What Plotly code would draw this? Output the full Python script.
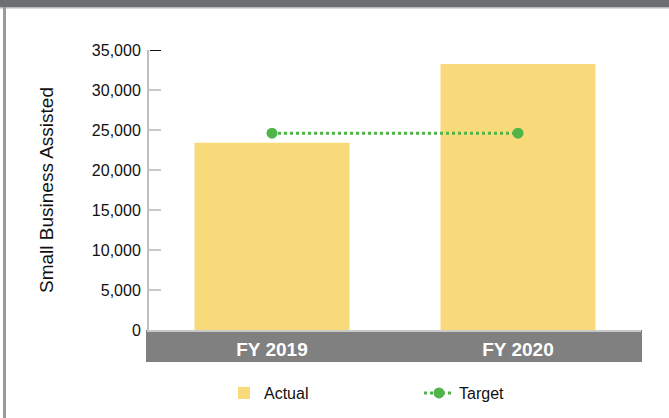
import plotly.graph_objects as go

categories = ["FY 2019", "FY 2020"]
actual = [23400, 33250]
target = [24600, 24600]
y_ticks = [0, 5000, 10000, 15000, 20000, 25000, 30000, 35000]
y_tick_labels = ["0", "5,000", "10,000", "15,000", "20,000", "25,000", "30,000", "35,000"]

FONT = "Liberation Sans, Arial, Helvetica, sans-serif"

W, H = 669, 418
L, R, T, B = 149, 28, 50, 88
PW, PH = W - L - R, H - T - B

def px_x(p):
    return (p - L) / PW

def px_y(p):
    return (H - B - p) / PH

fig = go.Figure()
fig.add_trace(go.Bar(
    x=[0, 1], y=actual, name="Actual", width=0.63,
    marker=dict(color="#f8da7a", line=dict(width=0)),
))
fig.add_trace(go.Scatter(
    x=[0, 1], y=target, name="Target", mode="lines+markers",
    line=dict(color="#4fb548", width=3, dash="dot"),
    marker=dict(color="#4fb548", size=11),
))

shapes = [
    # top dark band
    dict(type="rect", xref="paper", yref="paper", x0=px_x(0), x1=px_x(W), y0=px_y(7), y1=px_y(0),
         fillcolor="#6d6e72", line=dict(width=0), layer="below"),
    dict(type="rect", xref="paper", yref="paper", x0=px_x(0), x1=px_x(W), y0=px_y(8.5), y1=px_y(7),
         fillcolor="#b8b8ba", line=dict(width=0), layer="below"),
    # left border
    dict(type="rect", xref="paper", yref="paper", x0=px_x(3), x1=px_x(6), y0=px_y(H), y1=px_y(7),
         fillcolor="#9a9a9c", line=dict(width=0), layer="below"),
    # x category band
    dict(type="rect", xref="paper", yref="paper", x0=px_x(146), x1=px_x(642), y0=px_y(362), y1=px_y(330),
         fillcolor="#808080", line=dict(width=0), layer="below"),
    # black top tick
    dict(type="line", xref="paper", yref="y", x0=px_x(150), x1=px_x(161), y0=35000, y1=35000,
         line=dict(color="#111111", width=2)),
]

fig.update_layout(
    width=W, height=H,
    margin=dict(l=L, r=R, t=T, b=B, pad=0, autoexpand=False),
    paper_bgcolor="white", plot_bgcolor="white",
    font=dict(family=FONT, size=14, color="#111111"),
    showlegend=True,
    legend=dict(orientation="h", x=px_x(224), xanchor="left", y=px_y(393), yanchor="middle",
                font=dict(family=FONT, size=16, color="#111111"), entrywidth=150, itemwidth=30),
    shapes=shapes,
)
fig.update_xaxes(
    range=[-0.5, 1.5], tickmode="array", tickvals=[0, 1], ticktext=categories,
    tickfont=dict(family=FONT, size=19, color="white", weight="bold"),
    showgrid=False, zeroline=False, showline=True, linecolor="#c8c8c8", linewidth=2,
    ticks="", ticklabelstandoff=1, fixedrange=True,
)
fig.update_yaxes(
    range=[0, 35000], tickmode="array", tickvals=y_ticks, ticktext=y_tick_labels,
    tickfont=dict(family=FONT, size=16, color="#111111"),
    showgrid=False, zeroline=False, showline=True, linecolor="#c0c0c0", linewidth=2,
    ticks="inside", ticklen=12, tickcolor="#c8c8c8", tickwidth=2, ticklabelstandoff=3,
    title=dict(text="Small Business Assisted", font=dict(family=FONT, size=19, color="#111111"), standoff=33),
    fixedrange=True,
)

fig.write_html("out.html", post_script="document.body.style.margin='0';",
               config={"displayModeBar": False})
